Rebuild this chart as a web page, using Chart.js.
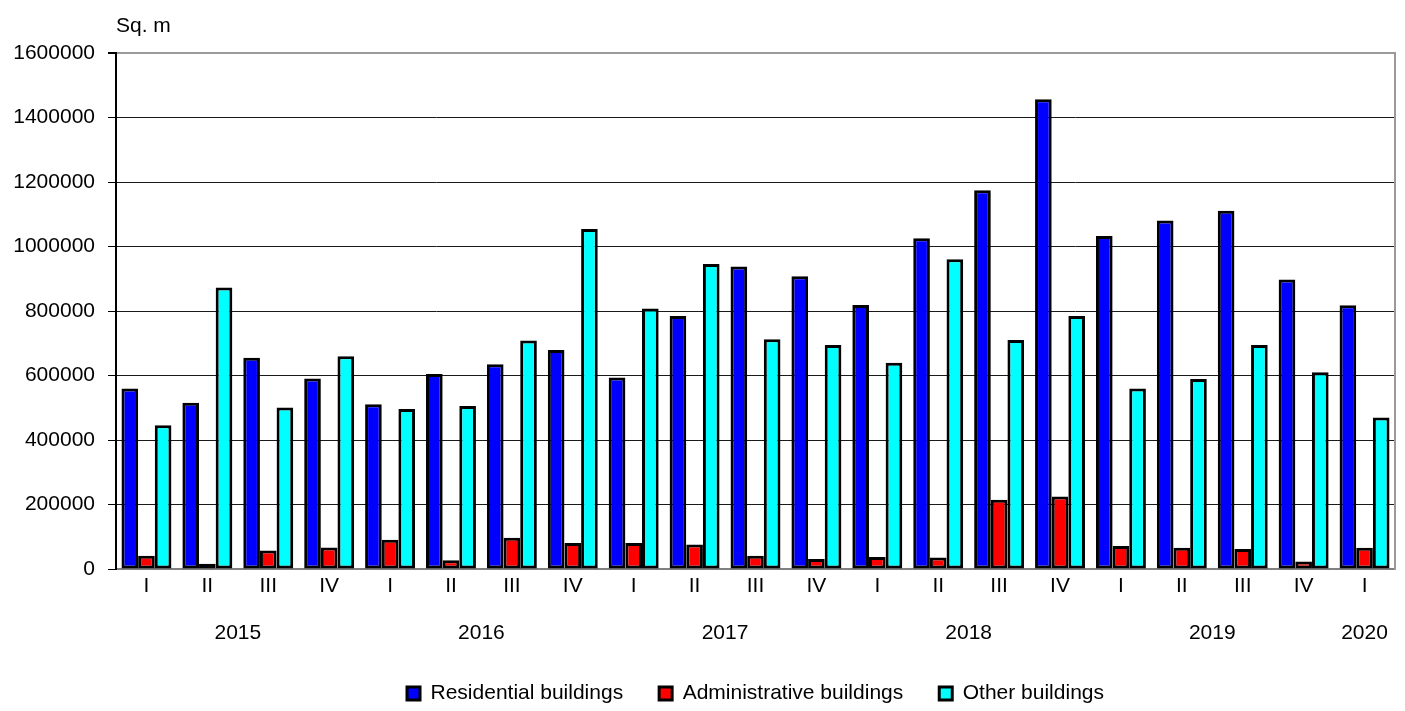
<!DOCTYPE html>
<html>
<head>
<meta charset="utf-8">
<script src="https://cdn.jsdelivr.net/npm/chart.js@4"></script>
<style>
  html, body { margin: 0; padding: 0; background: #fff; }
  canvas { display: block; }
</style>
</head>
<body>
<canvas id="c" width="1405" height="711"></canvas>
<script>
// ---- data ----
const quarters = ['I','II','III','IV','I','II','III','IV','I','II','III','IV','I','II','III','IV','I','II','III','IV','I'];
const years = ['2015','2016','2017','2018','2019','2020'];
const quartersPerYear = [4, 4, 4, 4, 4, 1];
const residential = [560000, 516000, 655000, 591000, 511000, 605000, 635000, 679000, 594000, 785000, 938000, 908000, 819000, 1026000, 1175000, 1457000, 1033000, 1081000, 1111000, 898000, 818000];
const administrative = [41000, 16000, 57000, 67000, 91000, 27000, 97000, 81000, 81000, 76000, 41000, 31000, 37000, 36000, 215000, 225000, 71000, 66000, 62000, 23000, 66000];
const other = [446000, 873000, 501000, 660000, 496000, 506000, 709000, 1055000, 808000, 946000, 713000, 695000, 640000, 961000, 710000, 785000, 560000, 589000, 695000, 610000, 470000];
const yTicks = [0, 200000, 400000, 600000, 800000, 1000000, 1200000, 1400000, 1600000];
const seriesNames = ['Residential buildings', 'Administrative buildings', 'Other buildings'];
const unitLabel = 'Sq. m';

// year label centres (in category index units), derived from quarter counts
const yearCenters = [];
{
  let start = 0;
  quartersPerYear.forEach(n => { yearCenters.push(start + (n - 1) / 2); start += n; });
}

Chart.defaults.font.family = '"Liberation Sans", Arial, sans-serif';
Chart.defaults.font.size = 21;
Chart.defaults.color = '#000';

const barStyle = { borderColor: '#000', borderWidth: 3, borderSkipped: false, categoryPercentage: 0.82, barPercentage: 1.0 };

new Chart(document.getElementById('c'), {
  type: 'bar',
  data: {
    labels: quarters,
    datasets: [
      Object.assign({ label: seriesNames[0], data: residential, backgroundColor: '#0000FF' }, barStyle),
      Object.assign({ label: seriesNames[1], data: administrative, backgroundColor: '#FF0000' }, barStyle),
      Object.assign({ label: seriesNames[2], data: other, backgroundColor: '#00FFFF' }, barStyle)
    ]
  },
  options: {
    responsive: false,
    animation: false,
    layout: { padding: { left: 0, right: 10, top: 0, bottom: -3 } },
    plugins: {
      title: {
        display: true,
        text: unitLabel,
        align: 'start',
        fullSize: false,
        color: '#000',
        font: { size: 21, weight: 'normal' },
        padding: { top: 14, bottom: 14 }
      },
      legend: {
        position: 'bottom',
        fullSize: false,
        labels: {
          boxWidth: 13,
          boxHeight: 13,
          padding: 36,
          color: '#000',
          font: { size: 21 }
        }
      },
      tooltip: { enabled: false }
    },
    scales: {
      x: {
        type: 'category',
        position: 'bottom',
        offset: true,
        grid: { display: false, drawTicks: false },
        border: { display: true, color: '#808080', width: 2 },
        ticks: { padding: 5, maxRotation: 0, autoSkip: false, color: '#000' }
      },
      x2: {
        type: 'linear',
        position: 'bottom',
        offset: false,
        min: -0.5,
        max: quarters.length - 0.5,
        grid: { display: false, drawTicks: false },
        border: { display: false },
        ticks: {
          padding: 16,
          maxRotation: 0,
          autoSkip: false,
          color: '#000',
          callback: (v, i) => years[i]
        },
        afterBuildTicks: (axis) => { axis.ticks = yearCenters.map(v => ({ value: v })); },
        afterFit: (axis) => { axis.height = 42.8; }
      },
      y: {
        type: 'linear',
        position: 'left',
        min: 0,
        max: 1600000,
        grid: {
          color: (ctx) => (ctx.tick && ctx.tick.value === 1600000) ? '#9a9a9a' : '#1a1a1a',
          lineWidth: (ctx) => (ctx.tick && ctx.tick.value === 1600000) ? 2 : 1,
          tickColor: '#000',
          tickLength: 8,
          drawTicks: true
        },
        border: { display: true, color: '#000', width: 2 },
        ticks: {
          padding: 13,
          color: '#000',
          autoSkip: false,
          callback: (v) => String(v)
        },
        afterBuildTicks: (axis) => { axis.ticks = yTicks.map(v => ({ value: v })); },
        afterFit: (axis) => { axis.width = 116; }
      },
      y2: {
        type: 'linear',
        position: 'right',
        grid: { display: false, drawTicks: false },
        border: { display: true, color: '#9a9a9a', width: 2 },
        ticks: { display: false },
        afterFit: (axis) => { axis.width = 0; }
      }
    }
  }
});
</script>
</body>
</html>
